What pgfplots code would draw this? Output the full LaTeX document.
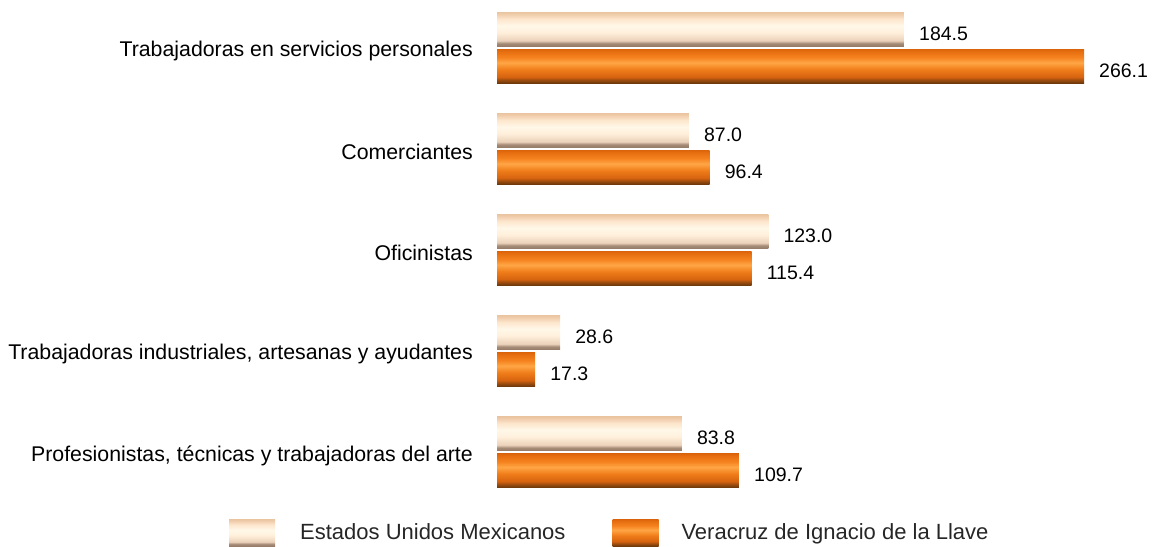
\documentclass[border=0pt]{standalone}
\usepackage{pgfplots}
\pgfplotsset{compat=1.18}
\usepackage{fontspec}
\setmainfont{Liberation Sans}
\pgfdeclareverticalshading{lightbar}{100bp}{%
 rgb(0bp)=(0.59,0.49,0.41); rgb(25bp)=(0.59,0.49,0.41); rgb(29bp)=(0.65,0.55,0.47);
 rgb(33bp)=(0.92,0.82,0.73); rgb(45bp)=(1,0.94,0.86); rgb(55bp)=(1,0.97,0.91);
 rgb(65bp)=(0.99,0.90,0.80); rgb(72bp)=(0.94,0.80,0.67); rgb(75bp)=(0.92,0.77,0.63); rgb(100bp)=(0.92,0.77,0.63)}
\pgfdeclareverticalshading{orangebar}{100bp}{%
 rgb(0bp)=(0.43,0.22,0.04); rgb(25bp)=(0.43,0.22,0.04); rgb(29bp)=(0.59,0.29,0.06);
 rgb(34bp)=(0.84,0.39,0.06); rgb(45bp)=(0.94,0.49,0.10); rgb(55bp)=(1,0.65,0.27);
 rgb(63bp)=(0.96,0.51,0.12); rgb(72bp)=(0.90,0.43,0.06); rgb(75bp)=(0.86,0.39,0.04); rgb(100bp)=(0.86,0.39,0.04)}
\pgfplotsset{
 lightstyle/.style={shade, shading=lightbar, draw=none, bar shift=18.5pt,
   legend image code/.code={\shade[shading=lightbar] (0pt,-13.5pt) rectangle (46pt,13.5pt); \path (0pt,0pt) -- (71pt,0pt);}},
 orangestyle/.style={shade, shading=orangebar, draw=none, bar shift=-18.5pt,
   legend image code/.code={\shade[shading=orangebar] (0pt,-13.5pt) rectangle (46pt,13.5pt); \path (0pt,0pt) -- (69pt,0pt);}},
}
\begin{document}
\begin{tikzpicture}[x=1pt,y=1pt]
\useasboundingbox (0,0) rectangle (1153,546);
\begin{axis}[
 at={(497pt,43.5pt)}, anchor=south west,
 scale only axis, width=595.6pt, height=505.5pt,
 xbar, xmin=0, xmax=270, ymin=-0.5, ymax=4.5,
 bar width=34pt,
 axis line style={draw=none},
 xtick=\empty, ytick={0,1,2,3,4}, major tick length=0pt,
 yticklabels={{Profesionistas, técnicas y trabajadoras del arte},
   {Trabajadoras industriales, artesanas y ayudantes},
   {Oficinistas},{Comerciantes},{Trabajadoras en servicios personales}},
 yticklabel style={font=\fontsize{21.3}{25}\selectfont, inner sep=0pt, xshift=-24pt, yshift=-3.5pt},
 nodes near coords,
 nodes near coords style={font=\fontsize{19.5}{23}\selectfont, anchor=west, inner sep=0pt, xshift=15pt, yshift=-4.5pt, text=black},
 /pgf/number format/fixed, /pgf/number format/fixed zerofill,
 /pgf/number format/precision=1, /pgf/number format/assume math mode=true,
 legend columns=2,
 legend style={at={(-0.45,0)}, anchor=north west, yshift=-16.5pt, draw=none, fill=none,
   inner sep=0pt, nodes={inner sep=0pt, anchor=west, font=\fontsize{22}{26}\selectfont, text=black!85},
   /tikz/every even column/.append style={column sep=47pt}},
 clip=false,
]
\addplot[lightstyle] coordinates {(184.5,4)};
\addlegendentry{Estados Unidos Mexicanos}
\addplot[orangestyle] coordinates {(266.1,4)};
\addlegendentry{Veracruz de Ignacio de la Llave}
\addplot[lightstyle, forget plot] coordinates {(87.0,3)};
\addplot[orangestyle, forget plot] coordinates {(96.4,3)};
\addplot[lightstyle, forget plot] coordinates {(123.0,2)};
\addplot[orangestyle, forget plot] coordinates {(115.4,2)};
\addplot[lightstyle, forget plot] coordinates {(28.6,1)};
\addplot[orangestyle, forget plot] coordinates {(17.3,1)};
\addplot[lightstyle, forget plot] coordinates {(83.8,0)};
\addplot[orangestyle, forget plot] coordinates {(109.7,0)};
\end{axis}
\end{tikzpicture}
\end{document}
